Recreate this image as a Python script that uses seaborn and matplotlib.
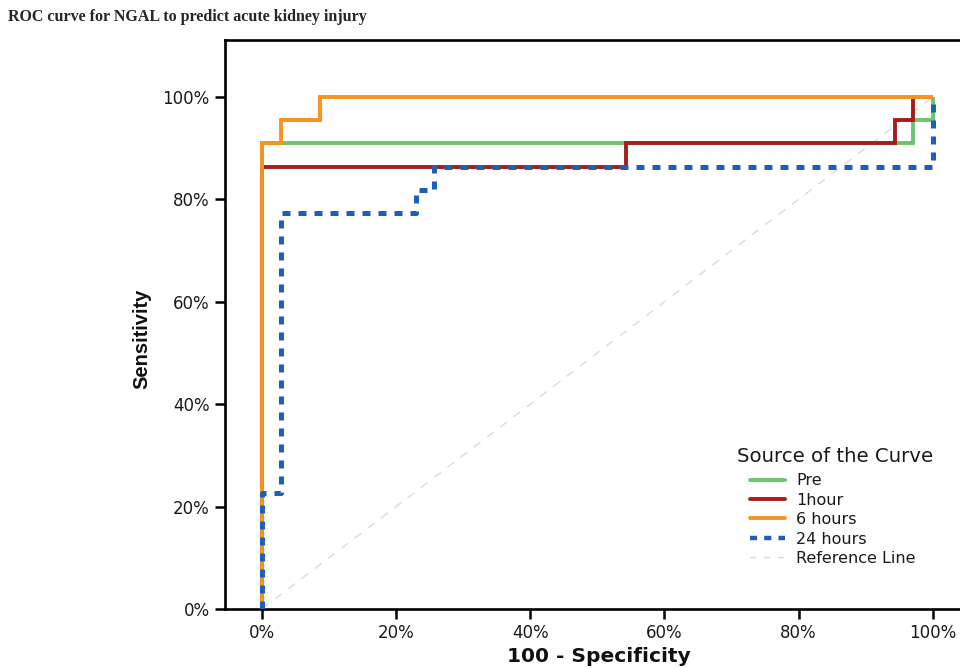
import matplotlib
matplotlib.use("Agg")
import matplotlib.pyplot as plt
import seaborn as sns
import pandas as pd
from matplotlib.lines import Line2D
from matplotlib.ticker import PercentFormatter

# ROC curve vertices (percent): 100 - specificity (x) and sensitivity (y)
pre_x = [0, 0, 97.1, 97.1, 100, 100]
pre_y = [0, 90.9, 90.9, 95.5, 95.5, 100]

h1_x = [0, 0, 54.3, 54.3, 94.3, 94.3, 97.1, 97.1, 100]
h1_y = [0, 86.4, 86.4, 90.9, 90.9, 95.5, 95.5, 100, 100]

h6_x = [0, 0, 2.9, 2.9, 8.6, 8.6, 100]
h6_y = [0, 90.9, 90.9, 95.5, 95.5, 100, 100]

h24_x = [0, 0, 2.9, 2.9, 22.9, 22.9, 25.7, 25.7, 100, 100]
h24_y = [0, 22.7, 22.7, 77.3, 77.3, 81.8, 81.8, 86.4, 86.4, 100]

ref_x = [0, 100]
ref_y = [0, 100]

series_names = ["Pre", "1hour", "6 hours", "24 hours"]
colors = ["#6cc46c", "#a51d1d", "#f7931e", "#1f60b5"]
ticks = [0, 20, 40, 60, 80, 100]

sns.set_style("white")
plt.rcParams["font.family"] = ["DejaVu Sans"]

W, H = 960, 668
AX_L, AX_R, AX_T, AX_B = 225, 963, 40, 609
fig = plt.figure(figsize=(9.6, 6.68), dpi=100)
ax = fig.add_axes([AX_L / W, 1 - AX_B / H, (AX_R - AX_L) / W, (AX_B - AX_T) / H])

def ax_x(px):
    return (px - AX_L) / (AX_R - AX_L)

def ax_y(py):
    return (AX_B - py) / (AX_B - AX_T)

def frame(xs, ys):
    return pd.DataFrame({"x": xs, "y": ys, "o": range(len(xs))})

# reference line
sns.lineplot(data=frame(ref_x, ref_y), x="x", y="y", sort=False, estimator=None,
             ax=ax, color="#dcdcdc", lw=1.0, linestyle=(0, (6, 6)), zorder=1)

data = [(pre_x, pre_y), (h1_x, h1_y), (h6_x, h6_y), (h24_x, h24_y)]
for i, ((xs, ys), name, c) in enumerate(zip(data, series_names, colors)):
    if name == "24 hours":
        sns.lineplot(data=frame(xs, ys), x="x", y="y", sort=False, estimator=None,
                     ax=ax, color=c, lw=3.6, linestyle=(0, (1.6, 1.6)),
                     zorder=6, dash_capstyle="butt")
    else:
        sns.lineplot(data=frame(xs, ys), x="x", y="y", sort=False, estimator=None,
                     ax=ax, color=c, lw=2.8, zorder=2 + i,
                     solid_joinstyle="miter", solid_capstyle="butt")

ax.set_xlim(-5.5, 104.5)
ax.set_ylim(0, 111.1)
ax.set_xticks(ticks)
ax.set_yticks(ticks)
ax.xaxis.set_major_formatter(PercentFormatter(decimals=0))
ax.yaxis.set_major_formatter(PercentFormatter(decimals=0))
ax.tick_params(axis="both", direction="out", length=7, width=1.8, color="black",
               labelsize=12, pad=4, bottom=True, left=True, labelcolor="#1a1a1a")
for s in ax.spines.values():
    s.set_linewidth(1.9)
    s.set_color("black")

ax.set_xlabel("100 - Specificity", fontsize=14.5, fontweight="bold", color="#111111")
ax.xaxis.label.set_va("baseline")
ax.xaxis.set_label_coords(ax_x(599), ax_y(662))

ax.set_ylabel("Sensitivity", fontsize=14.5, fontweight="bold",
              family=["Liberation Sans", "DejaVu Sans"], color="#111111")
ax.yaxis.set_label_coords(ax_x(151), ax_y(339))

handles = [Line2D([], [], color=colors[0], lw=2.8),
           Line2D([], [], color=colors[1], lw=2.8),
           Line2D([], [], color=colors[2], lw=2.8),
           Line2D([], [], color=colors[3], lw=3.2, linestyle=(0, (1.6, 1.6))),
           Line2D([], [], color="#d9d9d9", lw=1.0, linestyle=(0, (4, 6)))]
labels = series_names + ["Reference Line"]
leg = ax.legend(handles, labels, frameon=False,
                loc="lower left",
                bbox_to_anchor=(ax_x(750), ax_y(566)),
                fontsize=11.5, handlelength=2.2, handletextpad=0.7,
                labelspacing=0.28, borderaxespad=0, borderpad=0)
for t in leg.get_texts():
    t.set_color("#1a1a1a")

ax.text(ax_x(737), ax_y(456), "Source of the Curve",
        transform=ax.transAxes, fontsize=14.2, ha="left", va="center", color="#1a1a1a")

fig.text(8 / W, 1 - 17 / H, "ROC curve for NGAL to predict acute kidney injury",
         family=["Liberation Serif", "DejaVu Serif"], fontweight="bold", fontsize=11.5,
         va="center", ha="left")

fig.savefig("out.png", dpi=100)
